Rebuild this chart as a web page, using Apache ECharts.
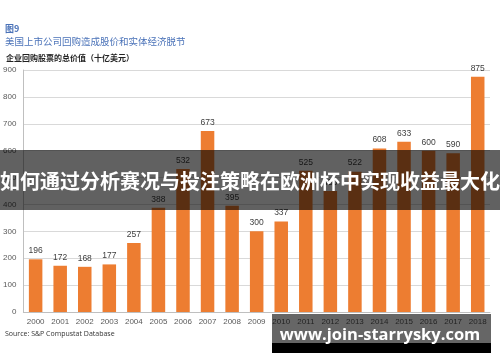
<!DOCTYPE html>
<html><head><meta charset="utf-8">
<script src="https://cdn.jsdelivr.net/npm/echarts@6/dist/echarts.min.js"></script>
<style>html,body{margin:0;padding:0;background:#fff}#c{width:500px;height:362px}</style>
</head><body><div id="c"></div>
<script>
var years = ['2000','2001','2002','2003','2004','2005','2006','2007','2008','2009','2010','2011','2012','2013','2014','2015','2016','2017','2018'];
var buybacks = [196,172,168,177,257,388,532,673,395,300,337,525,450,522,608,633,600,590,875];
var yTicks = {min:0, max:900, interval:100};
var titleFig = '图9';
var titleMain = '美国上市公司回购造成股价和实体经济脱节';
var subTitle = '企业回购股票的总价值（十亿美元）';
var sourceText = 'Source: S&P Compustat Database';
var bannerText = '如何通过分析赛况与投注策略在欧洲杯中实现收益最大化';
var watermark = 'www.join-starrysky.com';

var chart = echarts.init(document.getElementById('c'));
var cjk = '"Noto Sans CJK SC", sans-serif';
chart.setOption({
  animation:false,
  grid:{left:23,right:10,top:70,bottom:50,containLabel:false},
  xAxis:{type:'category',data:years,
    axisLine:{show:true,lineStyle:{color:'#bfbfbf'}},axisTick:{show:false},
    axisLabel:{color:'#595959',fontSize:8,margin:6,fontFamily:'Liberation Sans, sans-serif',interval:0}},
  yAxis:{type:'value',min:yTicks.min,max:yTicks.max,interval:yTicks.interval,
    axisLine:{show:true,lineStyle:{color:'#bfbfbf'}},axisTick:{show:false},
    splitLine:{lineStyle:{color:'#d9d9d9'}},
    axisLabel:{color:'#595959',fontSize:8,margin:7,fontFamily:'Liberation Sans, sans-serif'}},
  series:[{type:'bar',data:buybacks,barWidth:'55%',itemStyle:{color:'#ED7D31'},
    label:{show:true,position:'top',distance:4,color:'#404040',fontSize:8.5,fontFamily:'Liberation Sans, sans-serif'}}],
  graphic:[
    {type:'text',left:5,top:24,style:{text:titleFig,fill:'#4a72b8',font:'bold 9px '+cjk}},
    {type:'text',left:5,top:37,style:{text:titleMain,fill:'#4a72b8',font:'9.5px '+cjk}},
    {type:'text',left:6,top:54,style:{text:subTitle,fill:'#222',font:'bold 8px '+cjk}},
    {type:'text',left:5,top:330,style:{text:sourceText,fill:'#333',font:'7px "Open Sans", sans-serif'}},
    {type:'rect',shape:{x:0,y:150,width:500,height:60},style:{fill:'rgba(0,0,0,0.62)'},z:100},
    {type:'text',x:250,y:181,z:101,style:{text:bannerText,fill:'#fff',font:'bold 20px '+cjk,align:'center',verticalAlign:'middle'}},
    {type:'rect',shape:{x:272,y:314,width:219,height:29},style:{fill:'rgba(0,0,0,0.6)'},z:100},
    {type:'rect',shape:{x:272,y:343,width:219,height:10},style:{fill:'#000'},z:100},
    {type:'text',x:380,y:335,z:101,style:{text:watermark,fill:'#fff',font:'bold 16.5px "Open Sans", sans-serif',align:'center',verticalAlign:'middle'}}
  ]
});
</script></body></html>
